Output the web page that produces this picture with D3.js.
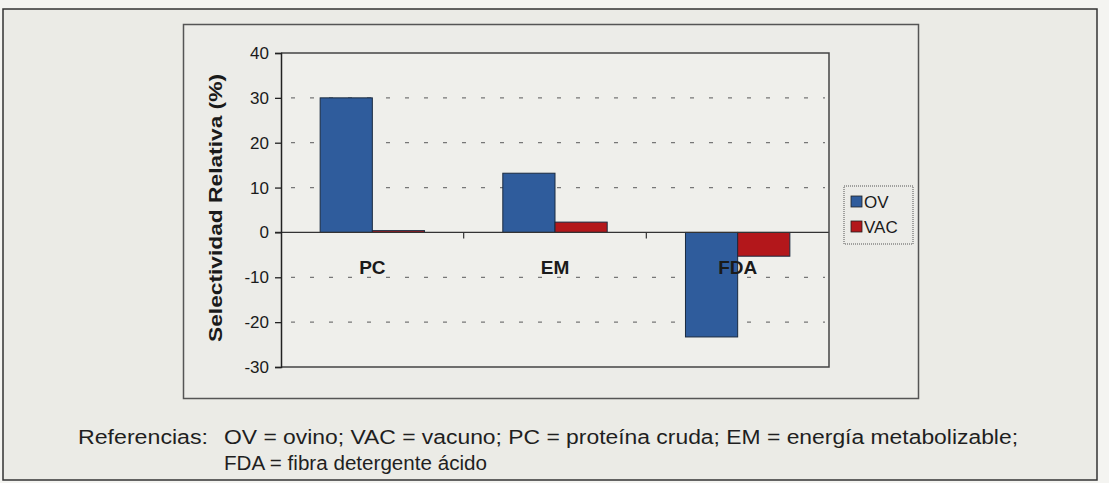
<!DOCTYPE html>
<html>
<head>
<meta charset="utf-8">
<script src="https://cdn.jsdelivr.net/npm/d3@7"></script>
<style>
  body { margin: 0; background: #f4f4f1; }
  svg { display: block; font-family: Arial, "Liberation Sans", sans-serif; }
</style>
</head>
<body>
<svg id="chart" width="1109" height="483"></svg>
<script>
// data
var categories = ['PC', 'EM', 'FDA'];
var seriesNames = ['OV', 'VAC'];
var ovValues = [30, 13.2, -23.3];
var vacValues = [0.4, 2.3, -5.3];
var yTicks = [-30, -20, -10, 0, 10, 20, 30, 40];
var footLines = [
  'OV = ovino; VAC = vacuno; PC = proteína cruda; EM = energía metabolizable;',
  'FDA = fibra detergente ácido'
];

var colors = { OV: '#2f5c9c', VAC: '#b3171b' };

var svg = d3.select('#chart');

// outer frame
svg.append('rect')
  .attr('x', 3).attr('y', 9).attr('width', 1094).attr('height', 471)
  .attr('fill', '#ebebe6').attr('stroke', '#333').attr('stroke-width', 1.5);

// chart area
svg.append('rect')
  .attr('x', 183.5).attr('y', 24.5).attr('width', 735).attr('height', 374)
  .attr('fill', '#ececE8').attr('stroke', '#555').attr('stroke-width', 1.5);

var plot = { left: 281, right: 829, top: 53, bottom: 367 };

var x = d3.scaleBand()
  .domain(categories)
  .range([plot.left, plot.right])
  .paddingInner(0).paddingOuter(0);

var x1 = d3.scaleBand()
  .domain(seriesNames)
  .range([0, x.bandwidth()])
  .paddingOuter(0.75).paddingInner(0);

var y = d3.scaleLinear().domain([-30, 40]).range([plot.bottom, plot.top]);

// plot area background
svg.append('rect')
  .attr('x', plot.left).attr('y', plot.top)
  .attr('width', plot.right - plot.left).attr('height', plot.bottom - plot.top)
  .attr('fill', '#efefeb');

// dashed gridlines
svg.append('g')
  .selectAll('line')
  .data(yTicks.filter(function(d) { return d !== 0 && d !== 40 && d !== -30; }))
  .join('line')
  .attr('x1', plot.left + 10).attr('x2', plot.right - 4)
  .attr('y1', function(d) { return y(d); })
  .attr('y2', function(d) { return y(d); })
  .attr('stroke', '#777').attr('stroke-width', 1.2)
  .attr('stroke-dasharray', '4,15');

// bars
var rows = categories.map(function(c, i) {
  return [{ cat: c, key: 'OV', v: ovValues[i] }, { cat: c, key: 'VAC', v: vacValues[i] }];
});

svg.append('g')
  .selectAll('g')
  .data(rows)
  .join('g')
  .attr('transform', function(d) { return 'translate(' + x(d[0].cat) + ',0)'; })
  .selectAll('rect')
  .data(function(d) { return d; })
  .join('rect')
  .attr('x', function(d) { return x1(d.key); })
  .attr('width', x1.bandwidth())
  .attr('y', function(d) { return y(Math.max(0, d.v)); })
  .attr('height', function(d) { return Math.abs(y(d.v) - y(0)); })
  .attr('fill', function(d) { return colors[d.key]; })
  .attr('stroke', '#1a2a40').attr('stroke-width', 1);

// zero line with category ticks
svg.append('line')
  .attr('x1', plot.left - 6).attr('x2', plot.right)
  .attr('y1', y(0)).attr('y2', y(0))
  .attr('stroke', '#333').attr('stroke-width', 1.3);

svg.append('g')
  .selectAll('line')
  .data(categories.slice(1))
  .join('line')
  .attr('x1', function(d) { return x(d); })
  .attr('x2', function(d) { return x(d); })
  .attr('y1', y(0)).attr('y2', y(0) + 6)
  .attr('stroke', '#333').attr('stroke-width', 1.2);

// category labels inside the plot
svg.append('g')
  .selectAll('text')
  .data(categories)
  .join('text')
  .attr('x', function(d) { return x(d) + x.bandwidth() / 2; })
  .attr('y', y(0) + 42)
  .attr('text-anchor', 'middle')
  .attr('font-size', 19).attr('font-weight', 'bold').attr('fill', '#1a1a1a')
  .text(function(d) { return d; });

// plot border (top/right) and y axis
svg.append('path')
  .attr('d', 'M' + plot.left + ',' + plot.top + 'H' + plot.right + 'V' + plot.bottom + 'H' + plot.left)
  .attr('fill', 'none').attr('stroke', '#444').attr('stroke-width', 1.5);

var yAxis = svg.append('g')
  .attr('transform', 'translate(' + plot.left + ',0)')
  .call(d3.axisLeft(y).tickValues(yTicks).tickSize(6).tickPadding(6)
    .tickFormat(function(d) { return String(d); }));
yAxis.select('.domain').attr('stroke', '#222').attr('stroke-width', 1.5);
yAxis.selectAll('.tick line').attr('stroke', '#222').attr('stroke-width', 1.3);
yAxis.selectAll('.tick text')
  .attr('font-size', 17).attr('fill', '#1a1a1a')
  .attr('font-family', 'Arial, "Liberation Sans", sans-serif');

// y axis title
svg.append('text')
  .attr('transform', 'translate(222,' + ((plot.top + plot.bottom) / 2 - 2) + ') rotate(-90)')
  .attr('text-anchor', 'middle')
  .attr('font-size', 18).attr('font-weight', 'bold').attr('fill', '#1a1a1a')
  .attr('textLength', 268).attr('lengthAdjust', 'spacingAndGlyphs')
  .text('Selectividad Relativa (%)');

// legend
var legend = svg.append('g').attr('transform', 'translate(844,186)');
legend.append('rect')
  .attr('width', 69).attr('height', 58)
  .attr('fill', '#ececE8').attr('stroke', '#555').attr('stroke-width', 1)
  .attr('stroke-dasharray', '1,1');
legend.selectAll('g')
  .data(seriesNames)
  .join('g')
  .attr('transform', function(d, i) { return 'translate(7,' + (16 + i * 25) + ')'; })
  .each(function(d) {
    var g = d3.select(this);
    g.append('rect')
      .attr('x', 0).attr('y', -6).attr('width', 11).attr('height', 11)
      .attr('fill', colors[d]).attr('stroke', '#222').attr('stroke-width', 0.8);
    g.append('text')
      .attr('x', 13).attr('y', 6)
      .attr('font-size', 17).attr('fill', '#1a1a1a')
      .text(d);
  });

// references note
var foot = svg.append('g').attr('fill', '#1f1f1f').attr('font-size', 20)
  .attr('font-family', 'Arial, "Liberation Sans", sans-serif');
foot.append('text').attr('x', 78).attr('y', 444).text('Referencias:')
  .attr('textLength', 130).attr('lengthAdjust', 'spacingAndGlyphs');
foot.selectAll('text.line')
  .data(footLines)
  .join('text')
  .attr('class', 'line')
  .attr('x', 224)
  .attr('y', function(d, i) { return 444 + i * 26; })
  .attr('textLength', function(d, i) { return i === 0 ? 794 : 263; })
  .attr('lengthAdjust', 'spacingAndGlyphs')
  .text(function(d) { return d; });
</script>
</body>
</html>
